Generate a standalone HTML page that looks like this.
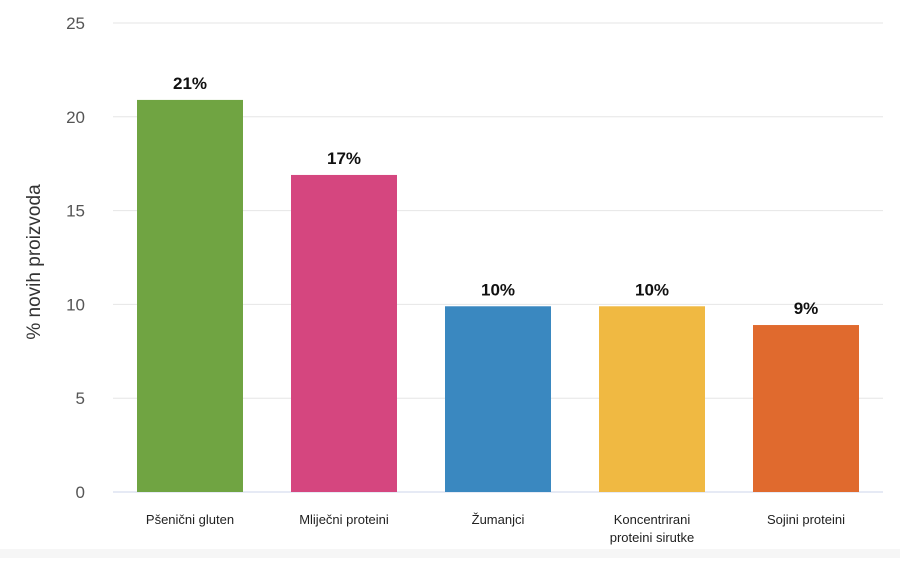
<!DOCTYPE html>
<html><head><meta charset="utf-8"><style>
body{margin:0;background:#fff;width:900px;height:558px;overflow:hidden;font-family:"Liberation Sans",sans-serif}
</style></head><body>
<svg id="chart" width="900" height="558" xmlns="http://www.w3.org/2000/svg">
<rect x="0" y="549" width="900" height="9" fill="#f6f6f6"/>
<text transform="translate(40,262) rotate(-90)" text-anchor="middle" font-size="19" fill="#333">% novih proizvoda</text>
<g id="grid"></g><g id="bars"></g><g id="labels"></g>
</svg>
<script>
const categories=["Pšenični gluten","Mliječni proteini","Žumanjci","Koncentrirani|proteini sirutke","Sojini proteini"];
const values=[20.9,16.9,9.9,9.9,8.9];
const valueLabels=["21%","17%","10%","10%","9%"];
const ticks=[0,5,10,15,20,25];
const colors=["#70a442","#d5467f","#3a88c0","#f0b942","#e06a2e"];
const NS="http://www.w3.org/2000/svg";
const x0=113,x1=883,y0=492,yTop=23,yMax=25;
const yS=v=>y0-(y0-yTop)*v/yMax;
const cw=(x1-x0)/categories.length,bw=106;
function mk(t,a,p){const e=document.createElementNS(NS,t);for(const k in a)e.setAttribute(k,a[k]);p.appendChild(e);return e;}
const g=document.getElementById('grid'),b=document.getElementById('bars'),l=document.getElementById('labels');
ticks.forEach(t=>{
const ln=mk('line',{x1:x0,x2:x1,y1:yS(t),y2:yS(t),stroke:t===0?'#ccd6eb':'#e6e6e6','stroke-width':1},g);


const tx=mk('text',{x:85,y:yS(t)+6,'text-anchor':'end','font-size':17,fill:'#555'},g);
tx.textContent=t;


});
categories.forEach((c,i)=>{
const cx=x0+cw*(i+0.5);
const r=mk('rect',{x:cx-bw/2,y:yS(values[i]),width:bw,height:y0-yS(values[i]),fill:colors[i]},b);


const v=mk('text',{x:cx,y:yS(values[i])-11,'text-anchor':'middle','font-size':17,'font-weight':'bold',fill:'#111'},l);
v.textContent=valueLabels[i];


c.split('|').forEach((s,j)=>{
const t=mk('text',{x:cx,y:524+j*18,'text-anchor':'middle','font-size':13,fill:'#222'},l);
t.textContent=s;


});
});
</script>
</body></html>
